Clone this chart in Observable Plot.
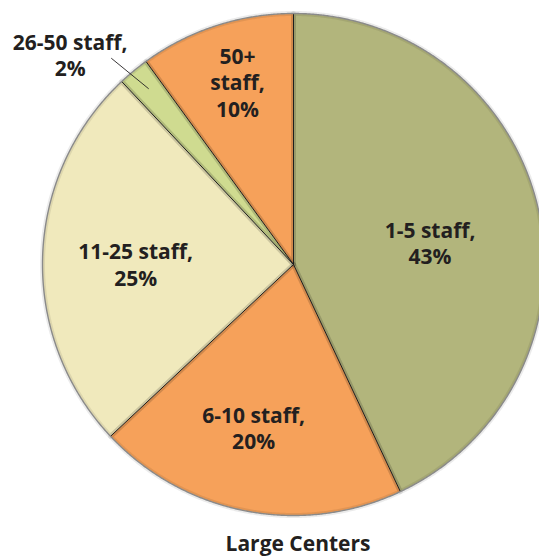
<!DOCTYPE html>
<html>
<head>
<meta charset="utf-8">
<script src="https://cdn.jsdelivr.net/npm/d3@7"></script>
<script src="https://cdn.jsdelivr.net/npm/@observablehq/plot@0.6"></script>
<style>
  html, body { margin: 0; padding: 0; background: #fff; }
  #wrap { position: relative; width: 539px; height: 556px; overflow: hidden; }
  #title { position: absolute; left: 0; top: 529px; width: 596px; text-align: center;
           font: 700 21px "Open Sans", sans-serif; color: #231f20; }
</style>
</head>
<body>
<div id="wrap"><div id="chart"></div><div id="title">Large Centers</div></div>
<script>
// ---- data ----
const categories = ["1-5 staff", "6-10 staff", "11-25 staff", "26-50 staff", "50+ staff"];
const shares = [43, 20, 25, 2, 10];
const labels = ["1-5 staff,\n43%", "6-10 staff,\n20%", "11-25 staff,\n25%", "26-50 staff,\n2%", "50+\nstaff,\n10%"];
const colors = ["#b2b57c", "#f6a15a", "#f0e9bc", "#cfdb90", "#f6a15a"];

// ---- layout (unit-radius coordinates, centre = 0,0) ----
const W = 539, H = 526, R = 251, CX = 293, CY = 264;
const labelAt = [[0.544, 0.086], [-0.159, -0.651], [-0.629, 0.002], [-0.890, 0.837], [-0.223, 0.727]];
const leader = [[-0.725, 0.821], [-0.578, 0.701]];

const arcs = d3.pie().sort(null).value(d => d)(shares);
const pt = (a, r = 1) => [r * Math.sin(a), r * Math.cos(a)];

const wedges = [];
arcs.forEach((a, i) => {
  const n = Math.max(2, Math.ceil((a.endAngle - a.startAngle) / 0.005));
  wedges.push({k: i, x: 0, y: 0});
  for (let j = 0; j <= n; j++) {
    const [x, y] = pt(a.startAngle + (a.endAngle - a.startAngle) * j / n);
    wedges.push({k: i, x, y});
  }
  wedges.push({k: i, x: 0, y: 0});
});
const spokes = arcs.flatMap((a, i) => [{k: i, x: 0, y: 0}, {k: i, x: pt(a.startAngle)[0], y: pt(a.startAngle)[1]}]);
const rim = d3.range(0, 2 * Math.PI + 0.005, 0.005).map(a => ({x: pt(a)[0], y: pt(a)[1]}));
const labelData = labels.map((t, i) => ({t, x: labelAt[i][0], y: labelAt[i][1]}));
const leaderData = leader.map(([x, y]) => ({x, y}));

const plot = Plot.plot({
  width: W, height: H,
  margin: 0,
  x: {domain: [-CX / R, (W - CX) / R], range: [0, W], axis: null},
  y: {domain: [CY / R, -(H - CY) / R], range: [0, H], axis: null},
  style: {background: "transparent"},
  marks: [
    Plot.line(wedges, {x: "x", y: "y", z: "k", fill: d => colors[d.k], stroke: "none", curve: "linear"}),
    Plot.line(wedges, {x: "x", y: "y", z: "k", stroke: "#000", strokeOpacity: 0.08, strokeWidth: 5, fill: "none"}),
    Plot.line(spokes, {x: "x", y: "y", z: "k", stroke: "#1e1e1e", strokeWidth: 1}),
    Plot.line(rim, {x: "x", y: "y", stroke: "#8a8a8a", strokeWidth: 1.4}),
    Plot.line(leaderData, {x: "x", y: "y", stroke: "#231f20", strokeWidth: 0.9}),
    Plot.text(labelData, {x: "x", y: "y", text: "t", fill: "#231f20", fontSize: 21, fontWeight: 700,
      fontFamily: "Open Sans", lineHeight: 1.25, textAnchor: "middle"})
  ]
});
document.getElementById("chart").appendChild(plot);
</script>
</body>
</html>
